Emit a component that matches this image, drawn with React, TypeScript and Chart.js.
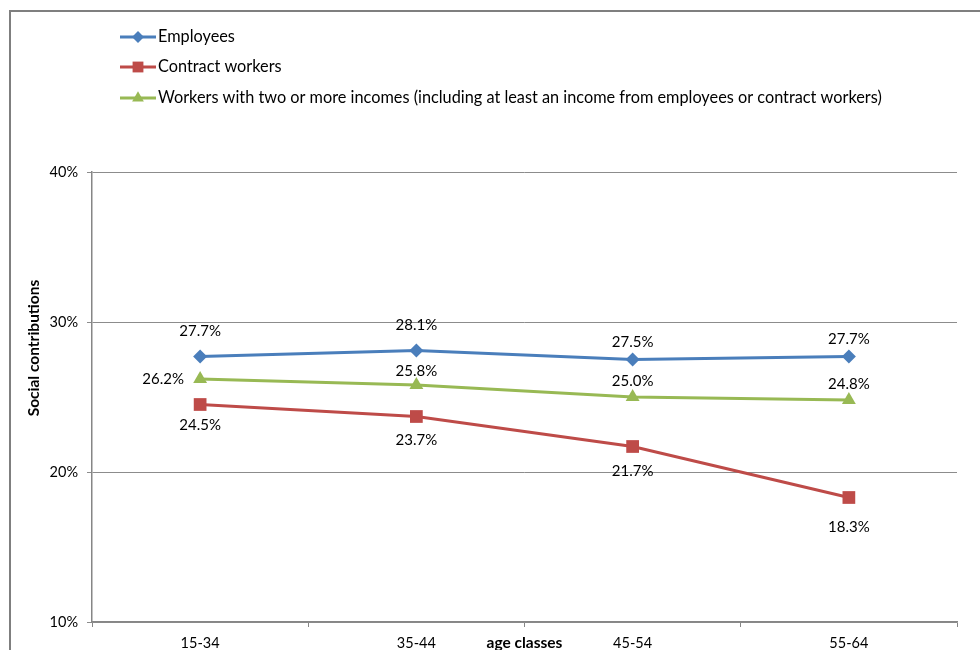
import React, { useEffect, useRef } from "react";
import { Chart, registerables } from "chart.js";
import { drawPoint } from "chart.js/helpers";

Chart.register(...registerables);

const categories = ["15-34", "35-44", "45-54", "55-64"];
const employees = [27.7, 28.1, 27.5, 27.7];
const contractWorkers = [24.5, 23.7, 21.7, 18.3];
const multiIncome = [26.2, 25.8, 25.0, 24.8];
const seriesLabels = [
  "Employees",
  "Contract workers",
  "Workers with two or more incomes (including at least an income from employees or contract workers)",
];
const yTicks = [10, 20, 30, 40];

const FONT = "Lato, 'Open Sans', sans-serif";
const colors = ["#4A7EBB", "#BE4B48", "#98B954"];
const styles = ["rectRot", "rect", "triangle"];
const radii = [7, 9, 8];
// label placement per series/point: [dx, dy]
const labelOffsets = [
  [[0, -25], [0, -25], [0, -17], [0, -17]],
  [[0, 21], [0, 24], [0, 25], [0, 30]],
  [[-37, 0], [0, -14], [0, -16], [0, -16]],
];

const overlayPlugin = {
  id: "overlay",
  afterDatasetsDraw(chart: any) {
    const ctx = chart.ctx;
    ctx.save();
    ctx.font = `15px ${FONT}`;
    ctx.fillStyle = "#000";
    ctx.textAlign = "center";
    ctx.textBaseline = "middle";
    chart.data.datasets.forEach((ds: any, di: number) => {
      const meta = chart.getDatasetMeta(di);
      meta.data.forEach((pt: any, i: number) => {
        const [dx, dy] = labelOffsets[di][i];
        ctx.fillText(ds.data[i].toFixed(1) + "%", pt.x + dx, pt.y + dy);
      });
    });
    ctx.restore();
  },
  afterDraw(chart: any) {
    const ctx = chart.ctx;
    const area = chart.chartArea;
    ctx.save();
    // axis titles
    ctx.fillStyle = "#000";
    ctx.font = `bold 15.5px ${FONT}`;
    ctx.textAlign = "center";
    ctx.textBaseline = "middle";
    ctx.fillText("age classes", (area.left + area.right) / 2, 643);
    ctx.translate(34, 348);
    ctx.rotate(-Math.PI / 2);
    ctx.fillText("Social contributions", 0, 0);
    ctx.restore();

    // legend
    ctx.save();
    const rows = [37, 67, 98];
    chart.data.datasets.forEach((ds: any, di: number) => {
      const y = rows[di];
      ctx.strokeStyle = colors[di];
      ctx.lineWidth = 3;
      ctx.beginPath();
      ctx.moveTo(120, y);
      ctx.lineTo(156, y);
      ctx.stroke();
      ctx.fillStyle = colors[di];
      drawPoint(ctx, { pointStyle: styles[di], radius: radii[di] * 0.85, rotation: 0, borderWidth: 0 } as any, 138, y);
      ctx.fillStyle = "#000";
      ctx.font = `16.3px ${FONT}`;
      ctx.textAlign = "left";
      ctx.textBaseline = "middle";
      ctx.fillText(ds.label, 158, y);
    });
    ctx.restore();
  },
};

export default function App() {
  const ref = useRef<HTMLCanvasElement>(null);
  useEffect(() => {
    const seriesData = [employees, contractWorkers, multiIncome];
    const chart = new Chart(ref.current!, {
      type: "line",
      data: {
        labels: categories,
        datasets: seriesData.map((d, i) => ({
          label: seriesLabels[i],
          data: d,
          borderColor: colors[i],
          backgroundColor: colors[i],
          borderWidth: 3,
          pointStyle: styles[i] as any,
          pointRadius: radii[i],
          pointBorderWidth: 0,
          pointBackgroundColor: colors[i],
          tension: 0,
        })),
      },
      options: {
        animation: false,
        responsive: false,
        layout: { padding: { top: 172, right: 23, left: 0, bottom: 0 } },
        plugins: { legend: { display: false }, tooltip: { enabled: false } },
        scales: {
          x: {
            offset: true,
            grid: { drawOnChartArea: false, drawTicks: true, tickLength: 5, color: "#868686", lineWidth: 1, offset: true },
            border: { color: "#868686", width: 1.5 },
            ticks: { color: "#000", font: { family: FONT, size: 14.5 }, padding: 8, maxRotation: 0 },
            afterFit(scale: any) {
              scale.height = 28;
            },
          },
          y: {
            min: 10,
            max: 40,
            afterBuildTicks(scale: any) {
              scale.ticks = yTicks.map((v) => ({ value: v }));
            },
            grid: { color: "#8c8c8c", lineWidth: 1, tickLength: 5 },
            border: { color: "#868686", width: 1.5 },
            ticks: {
              color: "#000",
              font: { family: FONT, size: 14.5 },
              padding: 9,
              callback: (v: any) => v + "%",
            },
            afterFit(scale: any) {
              scale.width = 92;
            },
          },
        },
      },
      plugins: [overlayPlugin],
    });
    return () => chart.destroy();
  }, []);
  return (
    <div
      style={{
        position: "absolute",
        left: 0,
        top: 0,
        width: 980,
        height: 650,
        overflow: "hidden",
        background: "#fff",
      }}
    >
      <div
        style={{
          position: "absolute",
          left: 9,
          top: 10,
          width: 990,
          height: 700,
          borderLeft: "2px solid #7f7f7f",
          borderTop: "2px solid #7f7f7f",
        }}
      />
      <canvas ref={ref} width={980} height={650} style={{ position: "absolute", left: 0, top: 0 }} />
    </div>
  );
}
